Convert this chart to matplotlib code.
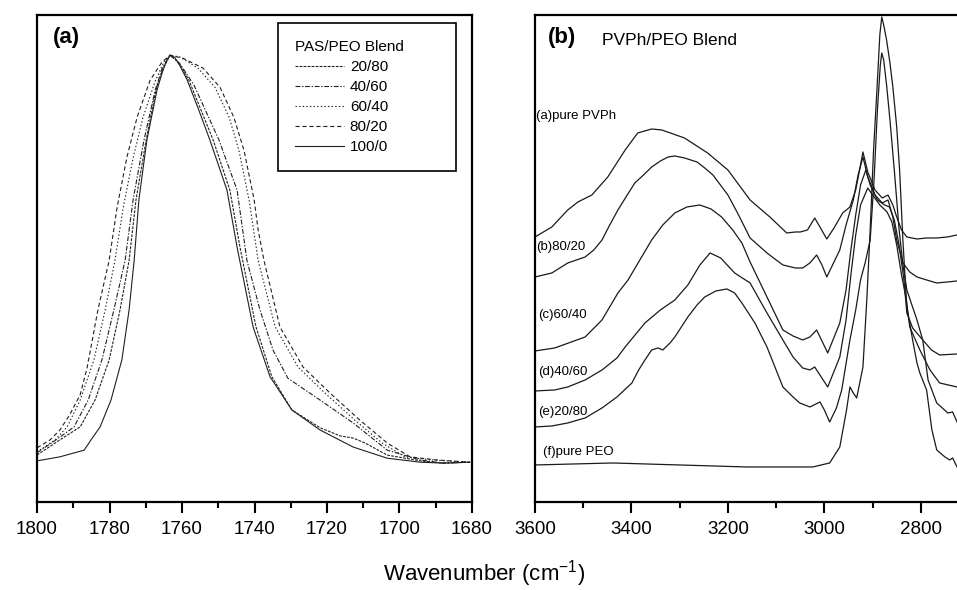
import matplotlib
matplotlib.use("Agg")
import matplotlib.pyplot as plt
from matplotlib.ticker import MultipleLocator

plt.rcParams['font.family'] = ['Liberation Sans', 'DejaVu Sans']
plt.rcParams['mathtext.fontset'] = 'custom'
plt.rcParams['mathtext.rm'] = 'Liberation Sans'
plt.rcParams['mathtext.it'] = 'Liberation Sans'
plt.rcParams['lines.scale_dashes'] = False

# ---- panel (a): PAS/PEO blends, C=O band, normalised absorbance ----
wn_a_100 = [1800, 1793.7, 1787.0, 1785.1, 1782.6, 1779.6, 1776.6, 1774.6, 1773.2, 1771.9, 1769.7,
            1766.9, 1765.5, 1764.3, 1763.3, 1762.0, 1760.5, 1758.6, 1755.5, 1752.3, 1747.6, 1744.8,
            1740.4, 1735.7, 1729.7, 1721.9, 1712.8, 1703.4, 1694.3, 1688.0, 1680.6]
ab_a_100 = [0.092, 0.101, 0.116, 0.139, 0.168, 0.228, 0.318, 0.430, 0.541, 0.676, 0.810,
            0.922, 0.960, 0.988, 1.000, 0.995, 0.975, 0.945, 0.880, 0.810, 0.698, 0.570,
            0.392, 0.280, 0.206, 0.161, 0.123, 0.098, 0.089, 0.087, 0.089]

wn_a_20 = [1800, 1793.7, 1788.1, 1784.0, 1780.1, 1777.1, 1774.6, 1772.7, 1769.9, 1767.2, 1765.5,
           1763.3, 1761.0, 1758.1, 1751.4, 1746.8, 1744.0, 1739.6, 1735.2, 1729.7, 1721.9, 1716.4,
           1712.8, 1709.5, 1703.4, 1694.3, 1688.0, 1680.6]
ab_a_20 = [0.105, 0.139, 0.168, 0.228, 0.318, 0.430, 0.541, 0.676, 0.810, 0.922, 0.965,
           1.000, 0.985, 0.944, 0.810, 0.698, 0.570, 0.392, 0.280, 0.206, 0.166, 0.148,
           0.143, 0.132, 0.105, 0.092, 0.087, 0.089]

wn_a_40 = [1800, 1793.7, 1789.8, 1785.9, 1782.1, 1778.8, 1775.7, 1773.5, 1770.5, 1767.4, 1765.5,
           1763.3, 1760.5, 1756.7, 1749.8, 1744.8, 1742.1, 1738.5, 1734.9, 1730.8, 1721.9, 1712.8,
           1703.4, 1694.3, 1688.0, 1680.6]
ab_a_40 = [0.110, 0.145, 0.168, 0.228, 0.318, 0.430, 0.541, 0.676, 0.810, 0.922, 0.970,
           1.000, 0.980, 0.933, 0.810, 0.698, 0.541, 0.430, 0.340, 0.277, 0.228, 0.177,
           0.116, 0.094, 0.087, 0.089]

wn_a_60 = [1800, 1795.0, 1791.7, 1788.1, 1784.3, 1781.2, 1778.5, 1776.2, 1773.5, 1770.8, 1767.5,
           1765.0, 1763.3, 1760.6, 1755.6, 1750.9, 1747.0, 1744.3, 1741.5, 1739.0, 1734.3, 1728.0,
           1720.6, 1712.3, 1704.8, 1698.5, 1691.0, 1680.6]
ab_a_60 = [0.112, 0.139, 0.168, 0.228, 0.318, 0.430, 0.541, 0.660, 0.770, 0.860, 0.940,
           0.985, 1.000, 0.996, 0.971, 0.928, 0.861, 0.787, 0.676, 0.541, 0.392, 0.302,
           0.244, 0.183, 0.132, 0.101, 0.094, 0.089]

wn_a_80 = [1800, 1796.4, 1793.7, 1791.0, 1788.1, 1786.2, 1783.2, 1780.1, 1777.9, 1775.2, 1772.4,
           1768.8, 1765.5, 1763.3, 1759.7, 1754.2, 1749.5, 1745.7, 1742.9, 1740.1, 1739.0, 1737.4,
           1733.0, 1726.6, 1719.2, 1710.9, 1703.4, 1697.1, 1689.7, 1680.6]
ab_a_80 = [0.121, 0.139, 0.161, 0.195, 0.240, 0.300, 0.430, 0.541, 0.660, 0.772, 0.861,
           0.944, 0.985, 1.000, 0.993, 0.971, 0.928, 0.861, 0.787, 0.676, 0.609, 0.541,
           0.392, 0.302, 0.244, 0.183, 0.132, 0.101, 0.094, 0.089]

blend_labels = ['20/80', '40/60', '60/40', '80/20', '100/0']

# ---- panel (b): PVPh/PEO blends, 3600-2725 cm-1, stacked spectra ----
wn_b_a = [3600, 3565, 3532, 3511, 3482, 3449, 3413, 3387, 3358, 3337, 3290, 3242, 3200, 3154, 3113,
          3078, 3060, 3050, 3035, 3020, 3008, 2995, 2980, 2962, 2947, 2935, 2927, 2920, 2910, 2895,
          2880, 2868, 2858, 2850, 2840, 2829, 2808, 2788, 2767, 2745, 2725]
ab_b_a = [2.65, 2.75, 2.92, 3.00, 3.07, 3.25, 3.52, 3.69, 3.73, 3.72, 3.64, 3.49, 3.32, 3.02, 2.85,
          2.69, 2.70, 2.70, 2.72, 2.84, 2.74, 2.63, 2.74, 2.89, 2.95, 3.12, 3.32, 3.50, 3.30, 3.12,
          3.04, 3.07, 2.97, 2.85, 2.72, 2.65, 2.63, 2.64, 2.64, 2.65, 2.67]

wn_b_b = [3600, 3565, 3532, 3496, 3478, 3461, 3445, 3428, 3410, 3393, 3375, 3358, 3340, 3324, 3310,
          3290, 3264, 3248, 3231, 3200, 3180, 3154, 3119, 3086, 3060, 3045, 3030, 3016, 3005, 2995,
          2980, 2968, 2955, 2940, 2930, 2920, 2910, 2895, 2880, 2868, 2858, 2850, 2837, 2823, 2808,
          2788, 2767, 2745, 2725]
ab_b_b = [2.25, 2.29, 2.39, 2.45, 2.52, 2.62, 2.77, 2.92, 3.06, 3.19, 3.27, 3.35, 3.41, 3.45, 3.46,
          3.44, 3.40, 3.34, 3.27, 3.07, 2.89, 2.64, 2.49, 2.37, 2.34, 2.34, 2.39, 2.47, 2.37, 2.25,
          2.40, 2.52, 2.77, 3.02, 3.27, 3.45, 3.25, 3.07, 2.99, 3.02, 2.85, 2.62, 2.39, 2.30, 2.25,
          2.22, 2.19, 2.20, 2.21]

wn_b_c = [3600, 3559, 3496, 3461, 3428, 3407, 3385, 3358, 3335, 3310, 3285, 3258, 3235, 3213, 3190,
          3171, 3154, 3119, 3086, 3065, 3045, 3030, 3016, 2993, 2968, 2955, 2945, 2935, 2925, 2914,
          2905, 2890, 2875, 2865, 2855, 2845, 2835, 2829, 2817, 2796, 2778, 2761, 2725]
ab_b_c = [1.51, 1.54, 1.65, 1.82, 2.09, 2.22, 2.40, 2.62, 2.77, 2.89, 2.95, 2.97, 2.93, 2.85, 2.72,
          2.59, 2.40, 2.05, 1.72, 1.66, 1.62, 1.65, 1.72, 1.49, 1.79, 2.12, 2.52, 2.87, 3.17, 3.32,
          3.17, 3.02, 2.97, 2.95, 2.82, 2.57, 2.22, 1.89, 1.74, 1.62, 1.52, 1.47, 1.48]

wn_b_d = [3600, 3559, 3532, 3496, 3461, 3430, 3413, 3372, 3340, 3310, 3283, 3258, 3237, 3215, 3186,
          3154, 3119, 3086, 3065, 3045, 3030, 3020, 2993, 2968, 2955, 2945, 2935, 2925, 2910, 2900,
          2885, 2870, 2860, 2850, 2840, 2830, 2823, 2802, 2781, 2761, 2725]
ab_b_d = [1.11, 1.12, 1.15, 1.22, 1.32, 1.44, 1.55, 1.79, 1.92, 2.02, 2.17, 2.37, 2.49, 2.44, 2.29,
          2.19, 1.89, 1.62, 1.45, 1.34, 1.32, 1.35, 1.15, 1.45, 1.82, 2.27, 2.67, 2.97, 3.14, 3.07,
          2.97, 2.90, 2.80, 2.57, 2.27, 2.02, 1.75, 1.52, 1.32, 1.19, 1.15]

wn_b_e = [3600, 3565, 3532, 3496, 3461, 3430, 3399, 3385, 3372, 3358, 3345, 3335, 3320, 3310, 3283,
          3264, 3248, 3225, 3202, 3186, 3171, 3144, 3119, 3100, 3086, 3065, 3051, 3030, 3009, 3000,
          2989, 2975, 2964, 2947, 2935, 2925, 2915, 2905, 2897, 2890, 2884, 2881, 2877, 2871, 2864,
          2855, 2845, 2837, 2829, 2808, 2796, 2785, 2767, 2744, 2734, 2725]
ab_b_e = [0.75, 0.76, 0.79, 0.84, 0.94, 1.05, 1.19, 1.32, 1.42, 1.52, 1.54, 1.52, 1.59, 1.65, 1.85,
          1.97, 2.05, 2.11, 2.13, 2.09, 1.99, 1.79, 1.55, 1.32, 1.15, 1.05, 0.99, 0.95, 1.00, 0.92,
          0.80, 0.94, 1.12, 1.62, 1.92, 2.22, 2.40, 2.62, 3.22, 3.92, 4.37, 4.49, 4.42, 4.17, 3.82,
          3.32, 2.72, 2.37, 2.12, 1.82, 1.62, 1.22, 0.99, 0.89, 0.90, 0.80]

wn_b_f = [3600, 3520, 3438, 3370, 3300, 3230, 3161, 3090, 3024, 2989, 2968, 2954, 2947, 2940, 2933,
          2920, 2912, 2905, 2898, 2891, 2885, 2881, 2877, 2871, 2864, 2858, 2850, 2844, 2837, 2829,
          2817, 2808, 2802, 2788, 2777, 2767, 2750, 2740, 2734, 2725]
ab_b_f = [0.37, 0.38, 0.39, 0.38, 0.37, 0.36, 0.35, 0.35, 0.35, 0.39, 0.55, 0.92, 1.15, 1.09, 1.04,
          1.35, 2.02, 2.72, 3.52, 4.12, 4.67, 4.85, 4.77, 4.62, 4.39, 4.15, 3.75, 3.32, 2.60, 1.95,
          1.62, 1.39, 1.29, 1.12, 0.72, 0.52, 0.45, 0.42, 0.44, 0.35]

curve_labels_b = ['(a)pure PVPh', '(b)80/20', '(c)60/40', '(d)40/60', '(e)20/80', '(f)pure PEO']
label_x_b = [3598, 3598, 3594, 3594, 3594, 3584]
label_y_b = [3.86, 2.55, 1.87, 1.30, 0.90, 0.50]

fig = plt.figure(figsize=(9.57, 5.90), dpi=100)
ax1 = fig.add_axes([0.0387, 0.1492, 0.4545, 0.8254])
ax2 = fig.add_axes([0.5590, 0.1492, 0.4410, 0.8254])

lw = 0.8
styles = [(0, (2.0, 0.9)),
          (0, (3.5, 1.2, 1.0, 1.2)),
          (0, (1.0, 1.6)),
          (0, (3.0, 2.0)),
          '-']
data_a = [(wn_a_20, ab_a_20), (wn_a_40, ab_a_40), (wn_a_60, ab_a_60),
          (wn_a_80, ab_a_80), (wn_a_100, ab_a_100)]
for (wn, ab), ls, lab in zip(data_a, styles, blend_labels):
    ax1.plot(wn, ab, color='#202020', lw=lw, linestyle=ls, label=lab)

ax1.set_xlim(1800, 1680)
ax1.set_ylim(0, 1.09)
ax1.xaxis.set_major_locator(MultipleLocator(20))
ax1.xaxis.set_minor_locator(MultipleLocator(10))
ax1.text(0.037, 0.953, '(a)', transform=ax1.transAxes, fontsize=16, fontweight='bold',
         va='center', ha='left')

leg = ax1.legend(title='PAS/PEO Blend', loc='upper left',
                 bbox_to_anchor=(0.554, 0.5, 0.409, 0.4836), mode='expand', borderaxespad=0,
                 fontsize=11, title_fontsize=11, handlelength=3.2, handletextpad=0.4,
                 labelspacing=0.40, borderpad=1.1, fancybox=False, edgecolor='black',
                 framealpha=1)
leg.get_frame().set_linewidth(1.2)
leg._legend_box.align = 'left'

data_b = [(wn_b_a, ab_b_a), (wn_b_b, ab_b_b), (wn_b_c, ab_b_c),
          (wn_b_d, ab_b_d), (wn_b_e, ab_b_e), (wn_b_f, ab_b_f)]
for wn, ab in data_b:
    ax2.plot(wn, ab, color='#1a1a1a', lw=0.9)
for lab, lx, ly in zip(curve_labels_b, label_x_b, label_y_b):
    ax2.text(lx, ly, lab, fontsize=9.5, va='center', ha='left')

ax2.set_xlim(3600, 2725)
ax2.set_ylim(0, 4.87)
ax2.xaxis.set_major_locator(MultipleLocator(200))
ax2.xaxis.set_minor_locator(MultipleLocator(100))
ax2.spines['right'].set_visible(False)
ax2.text(0.031, 0.953, '(b)', transform=ax2.transAxes, fontsize=16, fontweight='bold',
         va='center', ha='left')
ax2.text(0.158, 0.947, 'PVPh/PEO Blend', transform=ax2.transAxes, fontsize=12.5,
         va='center', ha='left')

for ax in (ax1, ax2):
    ax.set_yticks([])
    for s in ax.spines.values():
        s.set_linewidth(1.6)
    ax.tick_params(axis='x', which='major', direction='out', length=8, width=1.5,
                   labelsize=13.5, pad=6)
    ax.tick_params(axis='x', which='minor', direction='out', length=4.5, width=1.5)

fig.text(0.5057, 1 - 574 / 590, 'Wavenumber (cm$^{-1}$)', fontsize=16, ha='center', va='center')

fig.savefig('out.png', dpi=100)
